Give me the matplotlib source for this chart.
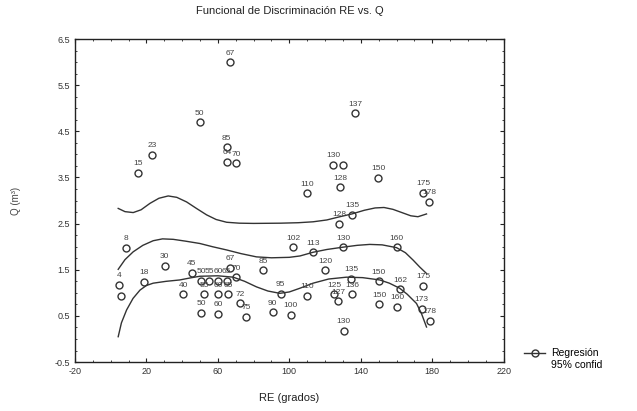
import matplotlib
matplotlib.use('Agg')
import matplotlib.pyplot as plt
from matplotlib.lines import Line2D
from matplotlib.ticker import MultipleLocator

plt.rcParams['font.family'] = ['Liberation Sans', 'DejaVu Sans']
plt.rcParams['axes.unicode_minus'] = False

# observed points: RE (grados), Q, point label
re_vals = [4.6, 5.6, 8.5, 15.2, 23.1, 18.6, 30.3, 40.6, 45.3, 50.5, 55.1, 60.0, 65.0,
           52.2, 60.2, 65.6, 50.7, 60.2, 66.7, 70.2, 72.3, 75.7, 85.2, 95.2, 90.6,
           100.7, 102.1, 110.0, 109.8, 113.3, 120.2, 125.0, 127.3, 134.8, 135.3,
           130.5, 128.0, 135.1, 130.3, 160.0, 150.1, 150.2, 160.3, 162.2, 174.9,
           174.0, 178.6, 124.5, 130.1, 128.3, 136.8, 149.7, 174.9, 178.2, 49.9,
           67.0, 64.9, 65.0, 70.1]
q_vals = [1.18, 0.93, 1.98, 3.60, 3.99, 1.24, 1.59, 0.97, 1.44, 1.26, 1.26, 1.26, 1.26,
          0.97, 0.97, 0.97, 0.57, 0.55, 1.54, 1.34, 0.77, 0.48, 1.49, 0.98, 0.58,
          0.53, 1.99, 0.94, 3.16, 1.88, 1.49, 0.97, 0.82, 1.31, 0.97,
          0.18, 2.50, 2.69, 1.99, 1.99, 1.25, 0.75, 0.70, 1.08, 1.15,
          0.66, 0.39, 3.78, 3.78, 3.29, 4.89, 3.49, 3.17, 2.97, 4.70,
          6.00, 4.15, 3.84, 3.81]
pt_labels = ['4', '', '8', '15', '23', '18', '30', '40', '45', '50', '55', '60', '65',
             '55', '60', '65', '50', '60', '67', '70', '72', '75', '85', '95', '90',
             '100', '102', '110', '110', '113', '120', '125', '127', '135', '136',
             '130', '128', '135', '130', '160', '150', '150', '160', '162', '175',
             '173', '178', '130', '', '128', '137', '150', '175', '178', '50',
             '67', '85', '64', '70']

# curves
upper_x = [4.2, 8, 12.6, 17, 22, 27, 32.2, 37, 42.5, 48, 53.7, 59, 64.9, 72, 80, 95,
           105, 113.3, 121, 128.3, 135, 142, 148, 153, 158, 163, 168, 172, 176.8]
upper_y = [2.83, 2.76, 2.74, 2.80, 2.94, 3.05, 3.10, 3.07, 2.97, 2.83, 2.69, 2.59,
           2.53, 2.51, 2.505, 2.51, 2.52, 2.54, 2.58, 2.65, 2.71, 2.79, 2.84, 2.85,
           2.81, 2.74, 2.67, 2.65, 2.71]
mid_x = [4.2, 8, 12.6, 18, 23.8, 29, 35, 42, 49.9, 57, 64.9, 73, 81.6, 90, 100, 106,
         113.3, 121, 130, 138, 145, 152, 160, 165, 169.3, 173, 176.8]
mid_y = [1.51, 1.72, 1.89, 2.03, 2.13, 2.17, 2.16, 2.12, 2.07, 2.00, 1.93, 1.85,
         1.78, 1.76, 1.77, 1.80, 1.88, 1.94, 1.99, 2.03, 2.05, 2.04, 1.98, 1.87,
         1.71, 1.56, 1.42]
low_x = [4.2, 6, 8.9, 12.5, 16.4, 20, 23.8, 31, 38.7, 44, 49.9, 60, 68.6, 75, 81.6,
         88, 94.7, 100, 105.9, 113.3, 122, 132, 141, 150.6, 156, 161.8, 166, 171.2,
         174, 176.8]
low_y = [0.05, 0.35, 0.63, 0.88, 1.06, 1.16, 1.21, 1.25, 1.28, 1.32, 1.36, 1.37,
         1.34, 1.25, 1.13, 1.04, 0.99, 1.02, 1.10, 1.21, 1.30, 1.34, 1.33, 1.28,
         1.21, 1.10, 0.97, 0.77, 0.55, 0.26]

col = '#333333'

fig = plt.figure(figsize=(6.37, 4.11), dpi=100)
ax = fig.add_axes([0.1177, 0.119, 0.673, 0.786])

ax.plot(re_vals, q_vals, 'o', mfc='none', mec=col, ms=5, mew=1)
for xv, yv, lab in zip(re_vals, q_vals, pt_labels):
    if lab:
        ax.annotate(lab, (xv, yv), xytext=(0, 4), textcoords='offset points',
                    ha='center', va='bottom', fontsize=6, color='#444444')

for cx, cy in [(upper_x, upper_y), (mid_x, mid_y), (low_x, low_y)]:
    ax.plot(cx, cy, '-', color=col, lw=1, solid_joinstyle='round')

ax.set_xlim(-20, 220)
ax.set_ylim(-0.5, 6.5)
ax.set_xticks([-20, 20, 60, 100, 140, 180, 220])
ax.set_yticks([-0.5, 0.5, 1.5, 2.5, 3.5, 4.5, 5.5, 6.5])
ax.xaxis.set_minor_locator(MultipleLocator(10))
ax.yaxis.set_minor_locator(MultipleLocator(0.25))
ax.tick_params(which='both', direction='in', top=True, right=True, labelsize=6.5,
               colors='#222222', labelcolor='#333333')
ax.tick_params(which='major', length=3)
ax.tick_params(which='minor', length=1.5)
for s in ax.spines.values():
    s.set_color('#222222')
    s.set_linewidth(1)

ax.set_title('Funcional de Discriminación RE vs. Q', fontsize=8, pad=18, color='#222222')
ax.set_xlabel('RE (grados)', fontsize=8, labelpad=12, color='#222222')
ax.set_ylabel('Q (m³)', fontsize=7, labelpad=24, color='#444444')

handles = [Line2D([], [], color=col, lw=1, marker='o', mfc='none', ms=5),
           Line2D([], [], color='none')]
fig.legend(handles, ['Regresión', '95% confid'], loc='upper left',
           bbox_to_anchor=(0.815, 0.165), frameon=False, fontsize=7.5,
           handlelength=2.0, handletextpad=0.6, labelspacing=0.2, borderpad=0)

fig.savefig('out.png', dpi=100)
